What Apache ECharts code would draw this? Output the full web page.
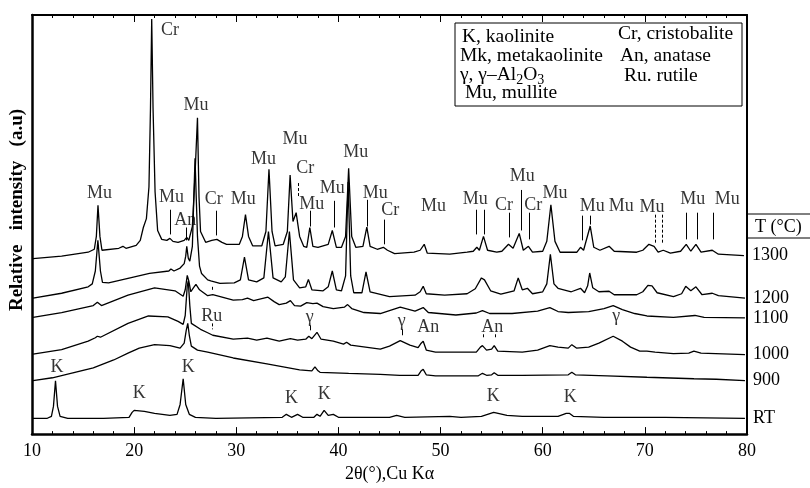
<!DOCTYPE html>
<html><head><meta charset="utf-8">
<script src="https://cdn.jsdelivr.net/npm/echarts@6.0.0/dist/echarts.min.js"></script>
<style>html,body{margin:0;padding:0;background:#fff}#c{width:810px;height:488px}</style>
</head><body><div id="c"></div>
<script>
// ---- data (2θ in degrees, relative intensity with vertical offsets) ----
const curveNames = ['RT', '900', '1000', '1100', '1200', '1300'];

const rtData = [[10.1,16],[11.5,16],[11.9,18],[12.1,28],[12.3,54],[12.5,28],[12.75,18],[13.5,16],[17,16],[19.5,17],[19.8,22],[20.0,24],[21,23],[22,21],[23.5,19],[24.2,20],[24.5,30],[24.8,56],[25.05,30],[25.4,20],[26,17],[28,16],[34.5,17],[34.9,20],[35.4,17],[36.0,20],[36.5,17],[37.6,17],[37.9,20],[38.2,18],[38.6,24],[39.0,19],[39.5,20],[40,17],[45,17],[45.7,19],[46.5,17],[50.9,18],[52,17],[54,18],[55.2,22],[56.5,19],[58,18],[61.5,18],[62.3,21],[62.6,21],[63,18],[66,17],[72,17],[79.8,16]];

const t900Data = [[10.1,54],[12,57],[14,62],[16,67],[18,75],[19.4,82],[20.5,87],[22,90.5],[23.5,89.5],[24.5,87],[24.9,92],[25.1,105],[25.25,112],[25.4,100],[25.6,89],[26.2,85],[27.2,83],[29.7,77],[33,71],[36.2,65],[37.4,64],[37.7,68],[38.0,64],[38.2,62.5],[41,61.5],[44.1,60.5],[46,59.5],[47.8,59.5],[48.1,64],[48.3,65.5],[48.6,60],[49.5,59],[53.7,59],[54.1,61.5],[54.5,59.5],[55.0,60],[55.25,62],[55.6,59.5],[58,59.5],[62.5,60],[62.85,62.5],[63.2,60],[66.3,59],[70.2,57.5],[74.8,56],[77,55.5],[79.8,54]];

const t1000Data = [[10.1,81],[12.9,85.5],[15.5,94],[16.2,97.5],[16.4,99],[16.7,98],[19.4,112],[21.4,119.5],[23.3,118.5],[24.3,114],[24.8,111],[25.0,120],[25.2,150],[25.3,155],[25.45,130],[25.6,112],[26.5,106],[27.2,102.5],[27.7,100],[29.7,96],[31.1,97],[32,95],[33.0,97],[34.2,94],[35.3,96.5],[36.0,95],[36.8,96],[37.1,99],[37.4,96.5],[37.9,103],[38.3,96],[39.5,94],[40.5,91],[40.8,93],[41.2,90],[44.1,86],[45,89],[46.05,94.5],[47,90],[47.8,87.5],[48.1,92],[48.3,94],[48.6,85],[49.5,83],[53.5,83],[53.9,88],[54.1,89.5],[54.5,85],[55.0,86],[55.25,89.5],[55.6,84],[58,83],[59.5,85],[60.7,89.5],[61.5,88],[62.5,87],[62.85,90.5],[63.3,87],[64.5,88],[65.5,92],[66.9,99],[67.8,94],[68.6,88],[69.5,84],[70.2,84],[71,83],[72.8,81.5],[74.3,82],[74.8,84],[75.5,82],[79.8,80.5]];

const t1100Data = [[10.1,118],[12.9,123],[16.0,130],[16.4,133.5],[16.8,130],[19.4,140.5],[22,148],[24,145],[24.8,139.5],[25.0,146],[25.2,160.5],[25.35,155],[25.55,144],[25.8,148],[26.05,151.5],[26.4,146],[27.2,140],[27.7,141],[29.7,135.5],[30.6,136],[31.1,137.5],[31.7,135],[33.1,138.5],[33.7,134],[34.2,131],[34.9,132.5],[35.3,135],[35.7,130],[36.3,129.5],[36.9,133],[37.5,132],[37.9,132.5],[38.5,129],[39.5,127],[40.6,128.5],[40.9,131],[41.3,127],[42.5,123],[44.1,122],[46.05,128.5],[47.5,124.5],[48.3,128],[48.8,123],[51.5,120.5],[53.5,122.5],[54.1,125],[54.8,122],[57,122],[59.5,124.5],[60.7,128],[61.5,124],[62.5,123],[64.5,124],[66.0,127],[66.9,130],[67.8,126],[69,122],[70.2,119.5],[72.8,118],[74.9,120],[75.8,118],[79.8,117.5]];

const t1200Data = [[10.1,137.5],[12.9,142.5],[15.5,149],[15.9,152],[16.2,165],[16.45,196],[16.7,165],[16.9,153.5],[17.5,153],[19.4,157.5],[21.5,162.5],[23.4,165],[23.6,167],[23.9,165],[24.5,168],[24.9,172.5],[25.05,180],[25.15,190],[25.3,178],[25.45,175],[25.7,190],[25.96,279],[26.2,200],[26.4,170],[26.6,162.5],[27.2,156],[27.5,155],[28.4,152.5],[29.8,153],[30.4,156],[30.8,179],[31.2,156],[32.0,154],[32.7,158],[33.15,205],[33.6,158],[34.4,154],[34.8,159],[35.2,205],[35.6,156],[36.2,148],[36.8,149],[37.06,156.5],[37.4,146],[38.5,145],[39.0,149],[39.4,165],[39.8,146],[40.3,145],[40.7,160],[40.95,255],[41.2,160],[41.5,143],[42.3,143],[42.7,164],[43.1,144],[45.0,139],[47.5,140.5],[48.0,144],[48.3,149.5],[48.6,142],[50.4,140.5],[52.6,142],[53.4,147],[54.0,158],[54.3,156],[54.9,145],[55.9,141.5],[57.2,145],[57.6,158],[58.0,146],[58.5,147.5],[59.0,142],[60.0,144],[60.4,152],[60.75,182],[61.1,152],[61.5,147.5],[62.8,144],[63.7,147.5],[64.1,143],[64.4,150],[64.6,163],[64.9,148],[65.5,144],[66.5,144.5],[67.0,141],[69.2,141],[69.8,144],[70.3,150.5],[70.7,150],[71.2,143],[72.8,139],[73.6,142],[74.0,149.5],[74.5,145],[75.0,149],[75.6,141],[76.6,142.5],[77.2,140],[79.8,137.5]];

const t1300Data = [[10.1,177.5],[12.9,180],[15.5,184],[16.1,187],[16.3,200],[16.46,231.5],[16.65,200],[16.85,186],[18.5,188],[18.9,190],[19.2,188],[20.2,191],[20.6,196],[20.9,209],[21.2,218],[21.45,250],[21.6,330],[21.72,420],[21.85,330],[22.05,245],[22.3,206],[22.7,197],[23.2,196],[23.5,198],[23.8,195],[24.3,194],[24.9,196],[25.15,199],[25.35,196],[25.7,210],[25.95,260],[26.2,320],[26.35,240],[26.5,205],[27.0,194],[27.6,196],[28.1,197],[28.6,194],[29.05,192],[30.3,192],[30.6,200],[30.9,222],[31.2,200],[31.6,190.5],[32.5,190.5],[32.9,205],[33.2,268],[33.5,205],[33.8,190.5],[34.6,192],[35.0,205],[35.27,262],[35.55,215],[35.86,224],[36.2,200],[36.6,190],[36.9,189],[37.2,209],[37.5,190],[38.0,189],[39.0,192],[39.4,206],[39.8,189],[40.3,189],[40.7,200],[41.0,269],[41.3,200],[41.7,189],[42.4,190],[42.78,209.5],[43.1,190],[43.8,187],[44.4,189],[44.8,186],[45.5,182.5],[47.4,184],[48.0,186],[48.4,192],[48.7,183],[50.9,182],[52.6,184],[53.2,185],[53.55,189],[53.8,186],[54.2,200],[54.6,186],[55.5,184],[56.0,185],[56.65,192],[57.1,188],[57.7,203],[58.1,186],[58.6,190],[59.0,184],[60.0,185],[60.4,195],[60.8,232],[61.2,195],[61.7,184],[63.35,184],[63.7,189],[64.0,186],[64.65,210.5],[65.0,189],[65.6,186],[66.5,190],[67.0,185],[69.2,184],[69.8,186],[70.4,192],[70.9,190],[71.3,184],[71.8,186],[72.5,183],[73.5,185],[74.05,192],[74.5,185],[75.0,192],[75.5,184],[76.6,186],[77.2,182],[79.7,180.5]];

// phase annotations: [text, 2θ, height]
const phaseLabels = [
  ['Cr',23.5,409],['Mu',16.6,244],['Mu',26.06,333],['Mu',23.66,240],['An',25.0,216],['Cr',27.8,238],
  ['Mu',30.67,238],['Mu',32.66,278],['Mu',35.76,298],['Cr',36.74,269],['Mu',37.4,233],['Mu',39.4,249],
  ['Mu',41.7,285],['Mu',43.6,244],['Cr',45.07,226],['Mu',49.3,231],['Mu',53.4,238],['Cr',56.2,232],
  ['Mu',58.0,261],['Cr',59.07,232],['Mu',61.2,244],['Mu',64.85,231],['Mu',67.7,231],['Mu',70.7,229],
  ['Mu',74.7,238],['Mu',78.07,238],
  ['Ru',27.6,119],['γ',37.2,118],['γ',46.2,114],['An',48.8,108],['An',55.05,108],['γ',67.2,119],
  ['K',12.45,68],['K',20.5,41],['K',25.3,68],['K',35.4,36],['K',38.6,40],['K',55.15,38],['K',62.7,37]
];
// indicator ticks: [2θ, from, to, dashed]
const phaseTicks = [
  [23.58,227,202,0],[25.15,209,196,0],[28.0,226,201,0],[36.1,254,239,1],[37.2,226,210,0],
  [39.6,236,209,0],[42.78,237,210,0],[44.5,217,192,0],[53.5,227,202,0],[54.3,227,202,0],
  [56.75,224,199,0],[57.86,247,206,0],[58.7,224,197,0],[63.84,221,196,0],[64.65,221,212,0],
  [71.0,222,192,1],[71.7,222,192,1],[74.1,224,197,0],[75.1,224,197,0],[76.67,224,197,0],
  [27.6,112,106,1],[27.6,149,146,0],[37.2,110,105,0],[46.2,106,100,0],[54.14,101,96,1],[55.35,101,96,1]
];

const curveData = [rtData, t900Data, t1000Data, t1100Data, t1200Data, t1300Data];

const FONT = '"Liberation Serif", "Times New Roman", serif';
const chart = echarts.init(document.getElementById('c'), null, {renderer: 'canvas'});

const series = curveNames.map((n, i) => ({
  name: n, type: 'line', data: curveData[i], symbol: 'none', smooth: false,
  lineStyle: {color: '#000', width: 1.3}, z: 3,
  endLabel: {show: true, formatter: '{a}', color: '#000', fontFamily: FONT, fontSize: 18, distance: 8}
}));

series.push({
  type: 'scatter', symbolSize: 0, clip: false, z: 4,
  data: phaseLabels.map(d => [d[1], d[2], d[0]]),
  label: {show: true, position: 'inside', formatter: p => p.value[2], color: '#000', fontFamily: FONT, fontSize: 18},
  markLine: {
    silent: true, symbol: ['none', 'none'], label: {show: false}, animation: false,
    lineStyle: {color: '#000', width: 1, type: 'solid'},
    data: phaseTicks.map(t => [
      {coord: [t[0], t[1]], lineStyle: {type: t[3] ? [3, 2] : 'solid', color: '#000', width: 1}},
      {coord: [t[0], t[2]]}
    ])
  }
});

const LF = '19.5px ' + FONT;
const option = {
  animation: false,
  backgroundColor: '#fff',
  grid: {left: 32, right: 63, top: 15, bottom: 49, containLabel: false},
  xAxis: [{
    type: 'value', min: 10, max: 80, interval: 10, position: 'bottom',
    name: '2θ(°),Cu Kα', nameLocation: 'middle', nameGap: 30,
    nameTextStyle: {fontFamily: FONT, fontSize: 18, color: '#000'},
    axisLine: {show: true, onZero: false, lineStyle: {color: '#000', width: 2.5}},
    axisTick: {show: true, inside: true, length: 7, lineStyle: {color: '#000', width: 1}},
    minorTick: {show: true, splitNumber: 5, length: 3, lineStyle: {color: '#000'}},
    axisLabel: {fontFamily: FONT, fontSize: 18, color: '#000', margin: 8},
    splitLine: {show: false}
  }, {
    type: 'value', min: 10, max: 80, interval: 10, position: 'top',
    axisLine: {show: true, onZero: false, lineStyle: {color: '#000', width: 2}},
    axisTick: {show: true, inside: true, length: 7, lineStyle: {color: '#000'}},
    minorTick: {show: true, splitNumber: 5, length: 3, lineStyle: {color: '#000'}},
    axisLabel: {show: false}, splitLine: {show: false}
  }],
  yAxis: [{
    type: 'value', min: 0, max: 424, position: 'left',
    axisLine: {show: true, onZero: false, lineStyle: {color: '#000', width: 2.5}},
    axisTick: {show: false}, axisLabel: {show: false}, splitLine: {show: false}
  }, {
    type: 'value', min: 0, max: 424, position: 'right',
    axisLine: {show: true, onZero: false, lineStyle: {color: '#000', width: 2}},
    axisTick: {show: false}, axisLabel: {show: false}, splitLine: {show: false}
  }],
  series: series,
  graphic: [
    {type: 'text', x: 17, y: 210, rotation: Math.PI / 2, z: 10,
     style: {text: 'Relative   intensity   (a.u)', font: 'bold 19px ' + FONT, fill: '#000', align: 'center', verticalAlign: 'middle'}},
    {type: 'rect', shape: {x: 455, y: 23, width: 287, height: 83}, z: 10,
     style: {fill: '#fff', stroke: '#000', lineWidth: 1}},
    {type: 'text', x: 462, y: 37, z: 11, style: {text: 'K, kaolinite', font: LF, fill: '#000', verticalAlign: 'middle'}},
    {type: 'text', x: 618, y: 34, z: 11, style: {text: 'Cr, cristobalite', font: LF, fill: '#000', verticalAlign: 'middle'}},
    {type: 'text', x: 460, y: 56, z: 11, style: {text: 'Mk, metakaolinite', font: LF, fill: '#000', verticalAlign: 'middle'}},
    {type: 'text', x: 620, y: 56, z: 11, style: {text: 'An, anatase', font: LF, fill: '#000', verticalAlign: 'middle'}},
    {type: 'text', x: 460, y: 74, z: 11, style: {
      text: '{a|γ, γ–Al}{s|2}{a|O}{s|3}', verticalAlign: 'middle',
      rich: {a: {font: LF, fill: '#000', verticalAlign: 'top', lineHeight: 19},
             s: {font: '14px ' + FONT, fill: '#000', verticalAlign: 'top', lineHeight: 19, padding: [9, 0, 0, 0]}}}},
    {type: 'text', x: 624, y: 76, z: 11, style: {text: 'Ru. rutile', font: LF, fill: '#000', verticalAlign: 'middle'}},
    {type: 'text', x: 465, y: 93, z: 11, style: {text: 'Mu, mullite', font: LF, fill: '#000', verticalAlign: 'middle'}},
    {type: 'line', shape: {x1: 747, y1: 214, x2: 810, y2: 214}, style: {stroke: '#000', lineWidth: 1}},
    {type: 'line', shape: {x1: 747, y1: 238, x2: 810, y2: 238}, style: {stroke: '#000', lineWidth: 1}},
    {type: 'text', x: 755, y: 227, style: {text: 'T (°C)', font: '18px ' + FONT, fill: '#000', verticalAlign: 'middle'}}
  ]
};
chart.setOption(option);
</script></body></html>
